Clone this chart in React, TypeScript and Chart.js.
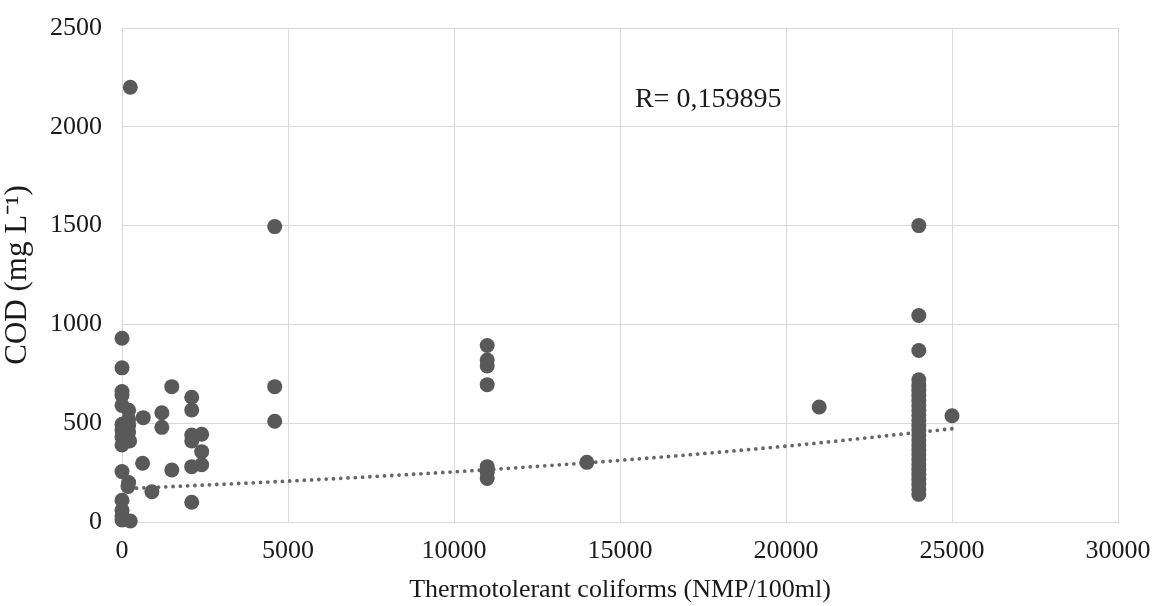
import { useEffect, useRef } from 'react';
import { Chart, registerables } from 'chart.js';

Chart.register(...registerables);

// Scatter observations: thermotolerant coliforms (x) vs COD (y)
const coliformValues = [
  0, 0, 0, 0, 0, 0, 0, 0, 0, 0, 0, 0, 0, 0,
  200, 200, 200, 200, 230, 200, 180, 250,
  250,
  640, 620, 900, 1200, 1200, 1500, 1500,
  2100, 2100, 2100, 2100, 2100, 2100,
  2400, 2400, 2400,
  4600, 4600, 4600,
  11000, 11000, 11000, 11000, 11000, 11000, 11000,
  14000, 21000,
  24000, 24000, 24000,
  24000, 24000, 24000, 24000, 24000, 24000, 24000, 24000, 24000, 24000, 24000, 24000,
  24000, 24000, 24000, 24000, 24000, 24000, 24000, 24000, 24000, 24000, 24000, 24000,
  25000,
];
const codValues = [
  930, 780, 660, 640, 590, 495, 465, 430, 390, 255, 110, 60, 30, 10,
  565, 520, 490, 455, 410, 200, 180, 5,
  2200,
  528, 297, 153, 553, 479, 685, 263,
  631, 567, 440, 410, 280, 100,
  444, 356, 290,
  1495, 685, 510,
  893, 820, 790, 695, 280, 250, 220,
  302, 582,
  1500, 1045, 868,
  140, 165, 190, 215, 240, 265, 290, 315, 340, 365, 390, 415,
  440, 465, 490, 515, 540, 565, 590, 615, 640, 665, 690, 720,
  538,
];

// Trend line
const trendX = [0, 5000, 10000, 15000, 20000, 25000];
const trendY = [168, 207, 254, 312, 384, 472];

const xTicks = [0, 5000, 10000, 15000, 20000, 25000, 30000];
const yTicks = [0, 500, 1000, 1500, 2000, 2500];

const annotationText = 'R= 0,159895';
const xTitle = 'Thermotolerant coliforms (NMP/100ml)';
const yTitle = 'COD (mg L\u207B\u00B9)';

const FONT = '"Liberation Serif", "Times New Roman", serif';
const TEXT = '#1a1a1a';
const GRID = '#d9d9d9';

export default function App() {
  const ref = useRef<HTMLCanvasElement | null>(null);

  useEffect(() => {
    if (!ref.current) return;
    const annotation = {
      id: 'rAnnotation',
      afterDatasetsDraw(chart: any) {
        const { ctx, scales } = chart;
        ctx.save();
        ctx.font = `28px ${FONT}`;
        ctx.fillStyle = TEXT;
        ctx.textAlign = 'left';
        ctx.textBaseline = 'middle';
        ctx.fillText(annotationText, scales.x.getPixelForValue(15450), scales.y.getPixelForValue(2135));
        ctx.restore();
      },
    };

    const chart = new Chart(ref.current, {
      type: 'scatter',
      data: {
        datasets: [
          {
            label: 'COD',
            data: coliformValues.map((x, i) => ({ x, y: codValues[i] })),
            backgroundColor: '#595959',
            borderColor: '#595959',
            pointRadius: 7.5,
            pointHoverRadius: 7.5,
            borderWidth: 0,
            clip: false as any,
            order: 1,
          },
          {
            type: 'line',
            label: 'Trend',
            data: trendX.map((x, i) => ({ x, y: trendY[i] })),
            borderColor: '#666666',
            borderWidth: 3.8,
            borderDash: [0, 7.3],
            borderCapStyle: 'round',
            pointRadius: 0,
            showLine: true,
            fill: false,
            cubicInterpolationMode: 'monotone',
            order: 2,
          } as any,
        ],
      },
      options: {
        animation: false,
        responsive: false,
        maintainAspectRatio: false,
        events: [],
        layout: { padding: { top: 28, right: 38, left: 0, bottom: 0 } },
        plugins: {
          legend: { display: false },
          tooltip: { enabled: false },
        },
        scales: {
          x: {
            type: 'linear',
            min: 0,
            max: 30000,
            afterBuildTicks: (scale: any) => {
              scale.ticks = xTicks.map((v) => ({ value: v }));
            },
            afterFit: (scale: any) => {
              scale.height = 84;
              scale.paddingLeft = 0;
              scale.paddingRight = 0;
            },
            grid: { color: GRID, lineWidth: 1, drawTicks: false },
            border: { color: GRID, width: 1 },
            ticks: {
              font: { family: FONT, size: 26 },
              color: TEXT,
              padding: 14,
              maxRotation: 0,
              autoSkip: false,
              callback: (v: any) => String(v),
            },
            title: {
              display: true,
              text: xTitle,
              font: { family: FONT, size: 26, lineHeight: 1.2 },
              color: TEXT,
              padding: { top: 0, bottom: 0 },
            },
          },
          y: {
            type: 'linear',
            min: 0,
            max: 2500,
            afterBuildTicks: (scale: any) => {
              scale.ticks = yTicks.map((v) => ({ value: v }));
            },
            afterFit: (scale: any) => {
              scale.width = 122;
              scale.paddingTop = 0;
              scale.paddingBottom = 0;
            },
            grid: { color: GRID, lineWidth: 1, drawTicks: false },
            border: { color: GRID, width: 1 },
            ticks: {
              font: { family: FONT, size: 26 },
              color: TEXT,
              padding: 20,
              autoSkip: false,
              callback: (v: any) => String(v),
            },
            title: {
              display: true,
              text: yTitle,
              font: { family: FONT, size: 31, lineHeight: 1.1 },
              color: TEXT,
              padding: { top: 1, bottom: 0 },
            },
          },
        },
      },
      plugins: [annotation],
    });
    return () => chart.destroy();
  }, []);

  return (
    <div style={{ position: 'fixed', left: 0, top: 0, width: 1156, height: 606, background: '#fff' }}>
      <canvas ref={ref} width={1156} height={606} style={{ width: 1156, height: 606, display: 'block' }} />
    </div>
  );
}
